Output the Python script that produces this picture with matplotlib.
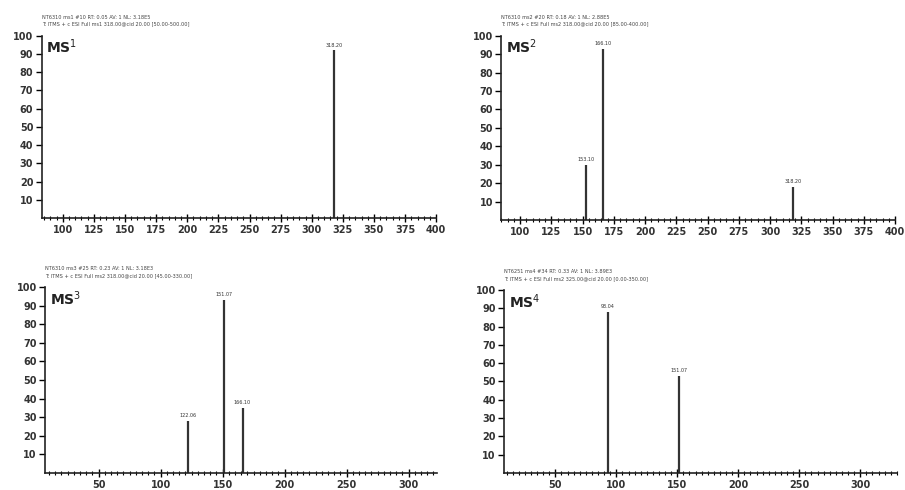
import matplotlib
matplotlib.use('Agg')
import matplotlib.pyplot as plt
from matplotlib.ticker import MultipleLocator

# spectra: m/z and relative abundance per stage
ms1_mz = [318.20]
ms1_int = [92]
ms2_mz = [153.10, 166.10, 318.20]
ms2_int = [30, 93, 18]
ms3_mz = [122.06, 151.07, 166.10]
ms3_int = [28, 93, 35]
ms4_mz = [93.04, 151.07]
ms4_int = [88, 53]

headers = [
    ["NT6310 ms1 #10 RT: 0.05 AV: 1 NL: 3.18E5",
     "T: ITMS + c ESI Full ms1 318.00@cid 20.00 [50.00-500.00]"],
    ["NT6310 ms2 #20 RT: 0.18 AV: 1 NL: 2.88E5",
     "T: ITMS + c ESI Full ms2 318.00@cid 20.00 [85.00-400.00]"],
    ["NT6310 ms3 #25 RT: 0.23 AV: 1 NL: 3.18E3",
     "T: ITMS + c ESI Full ms2 318.00@cid 20.00 [45.00-330.00]"],
    ["NT6251 ms4 #34 RT: 0.33 AV: 1 NL: 3.89E3",
     "T: ITMS + c ESI Full ms2 325.00@cid 20.00 [0.00-350.00]"],
]
stages = ["MS$^1$", "MS$^2$", "MS$^3$", "MS$^4$"]

fig = plt.figure(figsize=(9.05, 4.90), dpi=100)

panels = [
    ([0.046, 0.555, 0.436, 0.372], ms1_mz, ms1_int, (83, 400), 25),
    ([0.554, 0.551, 0.435, 0.376], ms2_mz, ms2_int, (85, 400), 25),
    ([0.050, 0.035, 0.433, 0.379], ms3_mz, ms3_int, (7, 323), 50),
    ([0.557, 0.035, 0.434, 0.373], ms4_mz, ms4_int, (8, 330), 50),
]

for i, (rect, mz, inten, xl, step) in enumerate(panels):
    ax = fig.add_axes(rect)
    ax.vlines(mz, 0, inten, color='#333333', lw=1.6)
    for m, v in zip(mz, inten):
        ax.text(m, v + 1.5, '%.2f' % m, ha='center', va='bottom', fontsize=3.5, color='#333333')
    ax.set_xlim(xl)
    ax.set_ylim(0, 100)
    ax.spines['top'].set_visible(False)
    ax.spines['right'].set_visible(False)
    for s in ['left', 'bottom']:
        ax.spines[s].set_linewidth(1.2)
        ax.spines[s].set_color('#222222')
    ax.set_yticks(range(10, 101, 10))
    ax.xaxis.set_major_locator(MultipleLocator(step))
    ax.xaxis.set_minor_locator(MultipleLocator(5))
    ax.tick_params(axis='y', labelsize=7, length=4, width=1, pad=2)
    ax.tick_params(axis='x', which='major', direction='inout', length=6, width=1, labelsize=7, pad=2)
    ax.tick_params(axis='x', which='minor', direction='inout', length=3, width=0.8)
    for lab in ax.get_xticklabels() + ax.get_yticklabels():
        lab.set_fontweight('bold')
        lab.set_color('#333333')
    ax.text(0.012, 0.99, stages[i], transform=ax.transAxes, ha='left', va='top',
            fontsize=10, fontweight='bold', color='#222222')
    ax.text(0.0, 1.05, headers[i][0] + "\n" + headers[i][1], transform=ax.transAxes,
            ha='left', va='bottom', fontsize=3.6, color='#444444', linespacing=1.4)

fig.savefig('out.png', dpi=100)
